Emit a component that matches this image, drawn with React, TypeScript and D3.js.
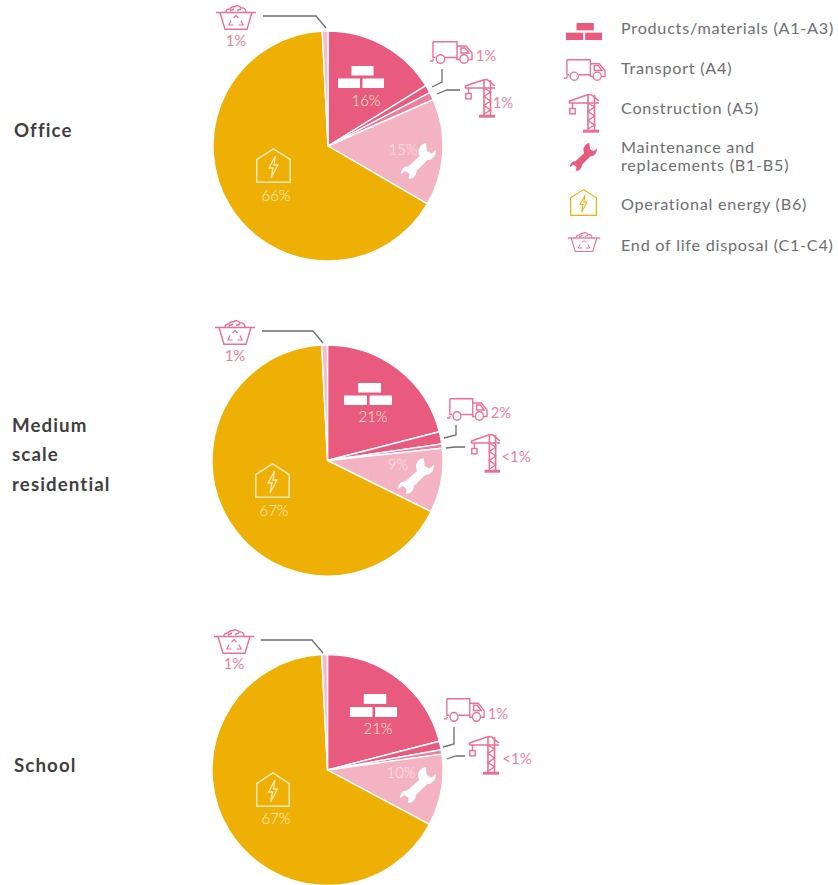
import React from "react";
import * as d3 from "d3";

const categories = ["Products/materials (A1-A3)", "Transport (A4)", "Construction (A5)", "Maintenance and|replacements (B1-B5)", "Operational energy (B6)", "End of life disposal (C1-C4)"];
const officeValues = [16.2, 1.1, 1.1, 15, 65.8, 0.8];
const residentialValues = [21, 1.7, 0.6, 9, 66.9, 0.8];
const schoolValues = [21, 1.2, 0.6, 10, 66.4, 0.8];
const officeLabels = ["16%", "1%", "1%", "15%", "66%", "1%"];
const residentialLabels = ["21%", "2%", "<1%", "9%", "67%", "1%"];
const schoolLabels = ["21%", "1%", "<1%", "10%", "67%", "1%"];
const colors = ["#e95a7f", "#e95a7f", "#ee7f9c", "#f4b3c2", "#eeb004", "#f5bccb"];
const PINK = "#ec6f90";
const GRAY = "#6d6e71";
const YELLOW = "#eeb004";
const FONT = "Lato, 'Open Sans', sans-serif";

type Box = [number, number, number, number];
type IconProps = { box: Box; color: string };

function Frame({ box, w, h, children }: { box: Box; w: number; h: number; children: React.ReactNode }) {
  const [x0, y0, x1, y1] = box;
  return <g transform={`translate(${x0},${y0}) scale(${(x1 - x0) / w},${(y1 - y0) / h})`}>{children}</g>;
}

function Bricks({ box, color }: IconProps) {
  return (
    <Frame box={box} w={46} h={22}>
      <g fill={color}>
        <rect x={13.5} y={0} width={22} height={9.5} />
        <rect x={0} y={12.5} width={22} height={9.5} />
        <rect x={24.5} y={12.5} width={21.5} height={9.5} />
      </g>
    </Frame>
  );
}

function Truck({ box, color }: IconProps) {
  return (
    <Frame box={box} w={43} h={23}>
      <g fill="none" stroke={color} strokeWidth={1.4}>
        <path d="M3,0.8 H27 V16.5 H15 M3,0.8 V16.5 H5.5" />
        <path d="M27,5 H36 L42,12 V18.5 H38.5 M29.5,18.5 H27 V16.5" />
        <path d="M31,7 H35 L39,12 H31 Z" />
        <circle cx={10.5} cy={18} r={4.2} />
        <circle cx={34} cy={18} r={4.2} />
        <path d="M0,20 H2.5 L3.5,18" />
      </g>
    </Frame>
  );
}

function Crane({ box, color }: IconProps) {
  return (
    <Frame box={box} w={30} h={39}>
      <g fill="none" stroke={color} strokeWidth={1.4}>
        <path d="M0.5,7 L18,1 L22,0.5 L30,7 M0.5,9 H30 M0.5,6.5 V9.5" strokeWidth={1.6} />
        <path d="M19,1 V36 M25.5,1 V36" strokeWidth={1.6} />
        <path d="M19,9 L25.5,13 L19,17.5 L25.5,22 L19,26.5 L25.5,31 L19,35" />
        <path d="M3.5,9 V14.5" />
        <rect x={0.8} y={14.5} width={5.4} height={5.4} />
        <path d="M14,37.2 H30" strokeWidth={3} />
      </g>
    </Frame>
  );
}

function Wrench({ box, color }: IconProps) {
  return (
    <Frame box={box} w={35} h={36}>
      <path
        fill={color}
        d="M25,0 C20.5,0.8 17.5,4.5 17.5,9 C17.5,10.5 18,11.8 18.5,13 L7,23.5 C3,23 0,26.5 0,31 L4.5,28 L8.5,31 L7.5,36 C12,36 15.5,32.5 15.5,28 L26.5,17 C31,17.5 35,13 35,7 L30.5,10.5 L26,8 Z"
      />
    </Frame>
  );
}

function House({ box, color }: IconProps) {
  return (
    <Frame box={box} w={35} h={35}>
      <path d="M0.8,34.2 V11.5 L17.5,0.8 L34.2,11.5 V34.2 Z" fill="none" stroke={color} strokeWidth={1.5} />
      <path d="M19.5,8 L13,20 H17 L15,30 L22,17 H18 Z" fill="none" stroke={color} strokeWidth={1.3} />
    </Frame>
  );
}

function Bin({ box, color }: IconProps) {
  return (
    <Frame box={box} w={40} h={25}>
      <g fill="none" stroke={color} strokeWidth={1.4}>
        <path d="M0,7.5 H40" strokeWidth={1.7} />
        <path d="M4,7.5 L9,24.3 H31 L36,7.5" />
        <path d="M10,7 C10,4 13,4 14,4 C15,1 18,2 19,1.5 C21,0 24,1 25,3 C28,2.5 30,4 30,7 M14,6 L18,4 M21,5.5 L25,4" />
        <path d="M17.5,13 L20,10.5 L22.5,13 M25,15.5 L27,20 H22.5 M17.5,20 H13 L15,15.5" strokeWidth={1.2} />
      </g>
    </Frame>
  );
}

type Layout = {
  cx: number; cy: number; r: number;
  values: number[]; labels: string[];
  bricks: Box; truck: Box; crane: Box; wrench: Box; house: Box; bin: Box;
  labelPos: [number, number][];
  binLine: [number, number][]; truckLine: [number, number][]; craneLine: [number, number][];
};

const layouts: Layout[] = [
  {
    cx: 328, cy: 146, r: 115, values: officeValues, labels: officeLabels,
    bricks: [338, 66, 384, 88], truck: [430, 41, 473, 64], crane: [465, 79, 495, 118],
    wrench: [401, 143, 436, 179], house: [256, 148, 291, 183], bin: [216, 5, 256, 30],
    labelPos: [[366, 101], [486, 56], [503, 103], [403, 150], [276, 196], [236, 41]],
    binLine: [[263, 16], [316, 16], [326, 28]], truckLine: [[442, 69], [442, 82], [432, 87]], craneLine: [[437, 94], [447, 90], [460, 90]],
  },
  {
    cx: 327.5, cy: 460.5, r: 115.5, values: residentialValues, labels: residentialLabels,
    bricks: [344, 383, 392, 405], truck: [447, 398, 488, 421], crane: [471, 434, 500, 473],
    wrench: [398, 458, 434, 494], house: [255, 463, 290, 498], bin: [215, 320, 255, 345],
    labelPos: [[373, 417], [501, 413], [516, 457], [398, 465], [274, 511], [235, 356]],
    binLine: [[262, 331], [313, 331], [323, 343]], truckLine: [[456, 425], [456, 435], [444, 438]], craneLine: [[446, 448], [455, 447], [465, 447]],
  },
  {
    cx: 327.5, cy: 770, r: 115.5, values: schoolValues, labels: schoolLabels,
    bricks: [350, 694, 397, 717], truck: [444, 698, 485, 722], crane: [469, 736, 499, 775],
    wrench: [400, 767, 436, 803], house: [256, 772, 290, 807], bin: [214, 629, 254, 654],
    labelPos: [[378, 729], [498, 714], [517, 759], [401, 773], [276, 819], [234, 664]],
    binLine: [[261, 640], [312, 640], [323, 653]], truckLine: [[454, 727], [454, 744], [443, 747]], craneLine: [[447, 759], [456, 756], [465, 756]],
  },
];

const rowLabels: { lines: string[]; x: number; y: number[] }[] = [
  { lines: ["Office"], x: 14, y: [137] },
  { lines: ["Medium", "scale", "residential"], x: 12, y: [432, 461, 491] },
  { lines: ["School"], x: 14, y: [772] },
];

const legendY = [34, 74, 114, 0, 210, 251];
const lineGen = d3.line();

function PieBlock({ l }: { l: Layout }) {
  const arcs = d3.pie<number>().sort(null).value((d) => d)(l.values);
  const arc = d3.arc<d3.PieArcDatum<number>>().innerRadius(0).outerRadius(l.r);
  const pinkText = new Set([1, 2, 5]);
  return (
    <g>
      <g transform={`translate(${l.cx},${l.cy})`}>
        {arcs.map((a, i) => (
          <path key={i} d={arc(a) ?? ""} fill={colors[i]} stroke="#fff" strokeWidth={1.4} strokeLinejoin="round" />
        ))}
      </g>
      {[l.binLine, l.truckLine, l.craneLine].map((pts, i) => (
        <path key={i} d={lineGen(pts) ?? ""} fill="none" stroke={GRAY} strokeWidth={1.3} />
      ))}
      <Bricks box={l.bricks} color="#fff" />
      <Truck box={l.truck} color={PINK} />
      <Crane box={l.crane} color={PINK} />
      <Wrench box={l.wrench} color="#fff" />
      <House box={l.house} color="#fbe9b6" />
      <Bin box={l.bin} color={PINK} />
      {l.labels.map((t, i) => (
        <text
          key={i}
          x={l.labelPos[i][0]}
          y={l.labelPos[i][1] + 5}
          textAnchor="middle"
          fontFamily={FONT}
          fontSize={15}
          fontWeight={pinkText.has(i) ? 400 : 300}
          fill={pinkText.has(i) ? "#ee7f9c" : i === 3 ? "#fbe3e9" : "#fdf0cf"}
        >
          {t}
        </text>
      ))}
    </g>
  );
}

export default function App() {
  return (
    <svg width={838} height={885} style={{ position: "absolute", left: 0, top: 0, background: "#fff" }}>
      {layouts.map((l, i) => <PieBlock key={i} l={l} />)}
      {rowLabels.map((r, i) =>
        r.lines.map((t, j) => (
          <text key={`${i}-${j}`} x={r.x} y={r.y[j]} fontFamily={FONT} fontWeight={700} fontSize={18.7} letterSpacing={1.1} fill="#3f3f41">
            {t}
          </text>
        ))
      )}
      <Bricks box={[566, 23, 602, 40]} color="#e95a7f" />
      <Truck box={[564, 59, 606, 81]} color={PINK} />
      <Crane box={[569, 94, 599, 133]} color={PINK} />
      <Wrench box={[570, 143, 597, 171]} color="#e95a7f" />
      <House box={[570, 189, 597, 216]} color={YELLOW} />
      <Bin box={[568, 232, 600, 252]} color={PINK} />
      {categories.map((c, i) => {
        if (c.includes("|")) {
          const [a, b] = c.split("|");
          return (
            <g key={i} fontFamily={FONT} fontSize={16.2} letterSpacing={0.75} fill={GRAY}>
              <text x={621} y={153}>{a}</text>
              <text x={621} y={171}>{b}</text>
            </g>
          );
        }
        return (
          <text key={i} x={621} y={legendY[i]} fontFamily={FONT} fontSize={16.2} letterSpacing={0.75} fill={GRAY}>
            {c}
          </text>
        );
      })}
    </svg>
  );
}
